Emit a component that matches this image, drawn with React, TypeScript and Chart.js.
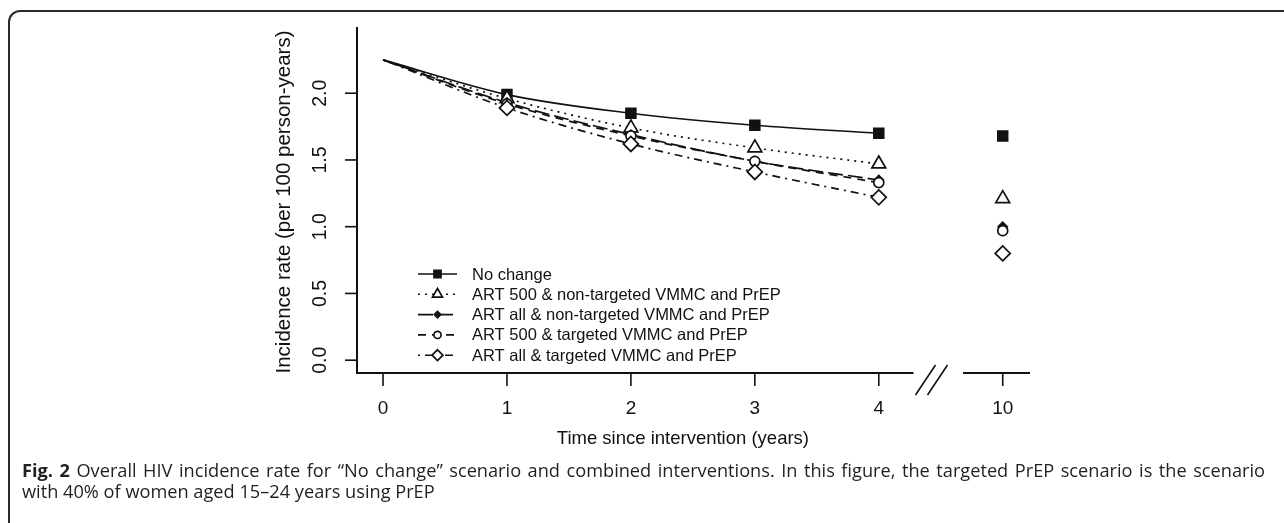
import React, { useEffect, useRef } from 'react';
import { Chart, registerables } from 'chart.js';

Chart.register(...registerables);

// ---- data ----
const years = [0, 1, 2, 3, 4];
const xTickPositions = [0, 1, 2, 3, 4, 5];
const xTickLabels = ['0', '1', '2', '3', '4', '10'];
const year10Position = 5; // where "10" sits on the broken axis
const yTickValues = [0, 0.5, 1.0, 1.5, 2.0];
const yTickLabels = ['0.0', '0.5', '1.0', '1.5', '2.0'];

const seriesNames = [
  'No change',
  'ART 500 & non-targeted VMMC and PrEP',
  'ART all & non-targeted VMMC and PrEP',
  'ART 500 & targeted VMMC and PrEP',
  'ART all & targeted VMMC and PrEP',
];
const noChange = [2.25, 1.99, 1.85, 1.76, 1.70];
const art500NonTargeted = [2.25, 1.96, 1.74, 1.59, 1.47];
const artAllNonTargeted = [2.25, 1.93, 1.69, 1.49, 1.35];
const art500Targeted = [2.25, 1.92, 1.68, 1.49, 1.33];
const artAllTargeted = [2.25, 1.89, 1.62, 1.41, 1.22];
const year10Values = [1.68, 1.21, 1.0, 0.97, 0.8];

const xTitle = 'Time since intervention (years)';
const yTitle = 'Incidence rate (per 100 person-years)';

// ---- styles ----
const FONT = '"Liberation Sans", Arial, Helvetica, sans-serif';
const INK = '#111';
type Mk = { shape: 'square' | 'triangle' | 'diamond' | 'circle'; r: number; filled: boolean };
const styles: { dash: number[]; mk: Mk }[] = [
  { dash: [], mk: { shape: 'square', r: 4.9, filled: true } },
  { dash: [2, 5], mk: { shape: 'triangle', r: 8, filled: false } },
  { dash: [15, 5], mk: { shape: 'diamond', r: 4.5, filled: true } },
  { dash: [8, 6], mk: { shape: 'circle', r: 5, filled: false } },
  { dash: [2, 5, 8, 5], mk: { shape: 'diamond', r: 7.5, filled: false } },
];
const allSeries = [noChange, art500NonTargeted, artAllNonTargeted, art500Targeted, artAllTargeted];

function drawMarker(ctx: CanvasRenderingContext2D, mk: Mk, x: number, y: number) {
  ctx.save();
  ctx.setLineDash([]);
  ctx.lineWidth = 1.7;
  ctx.strokeStyle = INK;
  ctx.fillStyle = mk.filled ? INK : '#fff';
  ctx.beginPath();
  const r = mk.r;
  if (mk.shape === 'square') {
    ctx.rect(x - r, y - r, 2 * r, 2 * r);
  } else if (mk.shape === 'triangle') {
    const h = r * 1.5;
    ctx.moveTo(x, y - r);
    ctx.lineTo(x + r * 0.866, y - r + h);
    ctx.lineTo(x - r * 0.866, y - r + h);
    ctx.closePath();
  } else if (mk.shape === 'diamond') {
    ctx.moveTo(x - r, y);
    ctx.lineTo(x, y - r);
    ctx.lineTo(x + r, y);
    ctx.lineTo(x, y + r);
    ctx.closePath();
  } else {
    ctx.arc(x, y, r, 0, Math.PI * 2);
  }
  ctx.fill();
  ctx.stroke();
  ctx.restore();
}

const decorPlugin = {
  id: 'decor',
  afterDatasetsDraw(chart: any) {
    const ctx: CanvasRenderingContext2D = chart.ctx;
    const { left, right, top, bottom } = chart.chartArea;
    const xs = chart.scales.x;
    const ys = chart.scales.y;

    // markers for every series (drawn through scales)
    allSeries.forEach((vals, i) => {
      vals.forEach((v, j) => {
        if (j === 0) return;
        drawMarker(ctx, styles[i].mk, xs.getPixelForValue(years[j]), ys.getPixelForValue(v));
      });
      drawMarker(ctx, styles[i].mk, xs.getPixelForValue(year10Position), ys.getPixelForValue(year10Values[i]));
    });

    ctx.save();
    ctx.strokeStyle = INK;
    ctx.fillStyle = INK;
    ctx.lineWidth = 2;
    ctx.setLineDash([]);
    // y axis line
    ctx.beginPath();
    ctx.moveTo(left, top);
    ctx.lineTo(left, bottom);
    ctx.stroke();
    // x axis with break
    const b1 = xs.getPixelForValue(4.28);
    const b2 = xs.getPixelForValue(4.68);
    ctx.beginPath();
    ctx.moveTo(left - 1, bottom);
    ctx.lineTo(b1, bottom);
    ctx.moveTo(b2, bottom);
    ctx.lineTo(right, bottom);
    ctx.stroke();
    // break slashes
    ctx.lineWidth = 1.6;
    ctx.beginPath();
    ctx.moveTo(b1 + 2, bottom + 22);
    ctx.lineTo(b1 + 22, bottom - 8);
    ctx.moveTo(b1 + 14, bottom + 22);
    ctx.lineTo(b1 + 34, bottom - 8);
    ctx.stroke();

    // x ticks and labels
    ctx.lineWidth = 1.6;
    ctx.font = `19px ${FONT}`;
    ctx.textAlign = 'center';
    ctx.textBaseline = 'middle';
    xTickPositions.forEach((p, i) => {
      const x = xs.getPixelForValue(p);
      ctx.beginPath();
      ctx.moveTo(x, bottom + 1);
      ctx.lineTo(x, bottom + 13);
      ctx.stroke();
      ctx.fillText(xTickLabels[i], x, bottom + 36);
    });
    ctx.font = `18.5px ${FONT}`;
    ctx.fillText(xTitle, (xs.getPixelForValue(0) + xs.getPixelForValue(year10Position)) / 2 - 10, bottom + 66);

    // y ticks and rotated labels
    ctx.font = `19.5px ${FONT}`;
    yTickValues.forEach((v, i) => {
      const y = ys.getPixelForValue(v);
      ctx.beginPath();
      ctx.moveTo(left - 12, y);
      ctx.lineTo(left, y);
      ctx.stroke();
      ctx.save();
      ctx.translate(left - 36, y);
      ctx.rotate(-Math.PI / 2);
      ctx.fillText(yTickLabels[i], 0, 0);
      ctx.restore();
    });
    ctx.save();
    ctx.font = `20.5px ${FONT}`;
    ctx.translate(left - 73, (top + bottom) / 2 + 2);
    ctx.rotate(-Math.PI / 2);
    ctx.fillText(yTitle, 0, 0);
    ctx.restore();

    // legend
    const lx0 = left + 61;
    const lx1 = left + 100;
    const ty = top + 247;
    ctx.font = `16.5px ${FONT}`;
    ctx.textAlign = 'left';
    seriesNames.forEach((name, i) => {
      const y = ty + i * 20.3;
      ctx.save();
      ctx.lineWidth = 1.6;
      ctx.setLineDash(styles[i].dash);
      ctx.beginPath();
      ctx.moveTo(lx0, y);
      ctx.lineTo(lx1, y);
      ctx.stroke();
      ctx.restore();
      const mk = { ...styles[i].mk, r: styles[i].mk.r * 0.72 };
      drawMarker(ctx, mk, (lx0 + lx1) / 2, y);
      ctx.fillStyle = INK;
      ctx.fillText(name, lx1 + 15, y + 1);
    });
    ctx.restore();
  },
};

export default function App() {
  const ref = useRef<HTMLCanvasElement | null>(null);
  useEffect(() => {
    if (!ref.current) return;
    const datasets = allSeries.map((vals, i) => ({
      label: seriesNames[i],
      data: years.map((x, j) => ({ x, y: vals[j] })),
      borderColor: INK,
      borderWidth: 1.7,
      borderDash: styles[i].dash,
      pointRadius: 0,
      fill: false,
      cubicInterpolationMode: 'monotone' as const,
    }));
    const chart = new Chart(ref.current, {
      type: 'line',
      data: { datasets },
      options: {
        animation: false,
        responsive: false,
        devicePixelRatio: 1,
        layout: { padding: { left: 357, right: 254, top: 27, bottom: 87 } },
        plugins: { legend: { display: false }, tooltip: { enabled: false }, title: { display: false } },
        scales: {
          x: { type: 'linear', min: -0.21, max: 5.22, display: false },
          y: { type: 'linear', min: -0.096, max: 2.496, display: false },
        },
      },
      plugins: [decorPlugin],
    });
    return () => chart.destroy();
  }, []);

  const captionFont = `18.2px "Open Sans", "Noto Sans", sans-serif`;
  return (
    <div style={{ position: 'absolute', left: 0, top: 0, width: 1284, height: 523, overflow: 'hidden', background: '#fff' }}>
      <div
        style={{
          position: 'absolute',
          left: 8,
          top: 10,
          width: 1400,
          height: 700,
          border: '2px solid #2a2a2a',
          borderTopLeftRadius: 12,
          boxSizing: 'border-box',
        }}
      />
      <canvas ref={ref} width={1284} height={460} style={{ position: 'absolute', left: 0, top: 0, width: 1284, height: 460 }} />
      <div
        style={{
          position: 'absolute',
          left: 22,
          top: 460,
          width: 1243,
          font: captionFont,
          lineHeight: '21px',
          color: '#231f20',
          textAlign: 'justify',
          textAlignLast: 'justify' as any,
          whiteSpace: 'normal',
        }}
      >
        <b>Fig. 2</b> Overall HIV incidence rate for “No change” scenario and combined interventions. In this figure, the targeted PrEP scenario is the scenario
      </div>
      <div
        style={{
          position: 'absolute',
          left: 22,
          top: 481,
          font: captionFont,
          lineHeight: '21px',
          color: '#231f20',
          whiteSpace: 'nowrap',
        }}
      >
        with 40% of women aged 15–24 years using PrEP
      </div>
    </div>
  );
}
